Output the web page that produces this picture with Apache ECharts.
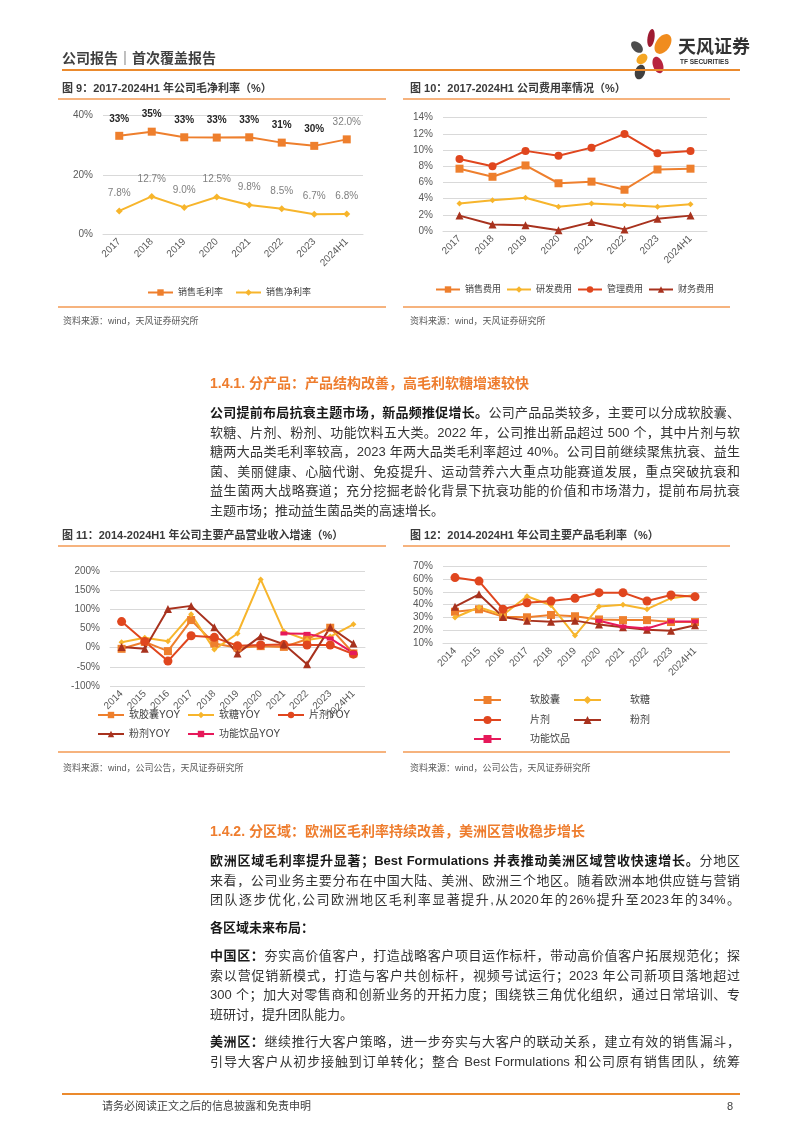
<!DOCTYPE html>
<html><head><meta charset="utf-8">
<script src="https://cdn.jsdelivr.net/npm/echarts@6/dist/echarts.min.js"></script>
<style>
html,body{margin:0;padding:0;background:#fff;}
#page{position:relative;width:802px;height:1133px;overflow:hidden;font-family:"Liberation Sans","Noto Sans CJK SC",sans-serif;color:#262626;}
#chart{position:absolute;left:0;top:0;width:802px;height:1133px;}
.t{position:absolute;white-space:nowrap;}
.hl{position:absolute;}
.ln{position:absolute;left:210px;width:530px;font-size:13px;line-height:19px;height:19px;text-align:justify;text-align-last:justify;color:#333;}
.ln.last{text-align-last:left;}
.ln b{color:#1a1a1a;}
.ttl{font-size:11px;font-weight:bold;color:#3a3a3a;line-height:14px;}
.src{font-size:9px;color:#595959;line-height:12px;}
.h2{font-size:14px;font-weight:bold;color:#EE7D2E;line-height:18px;}
</style></head>
<body><div id="page">
<div id="chart"></div>

<div class="t" style="left:62px;top:49px;font-size:14px;line-height:18px;color:#404040;font-weight:bold;">公司报告｜首次覆盖报告</div>
<div class="t" style="left:678px;top:36px;font-size:18px;line-height:22px;font-weight:bold;color:#333;">天风证券</div>
<div class="t" style="left:680px;top:58px;font-size:6.5px;line-height:8px;font-weight:bold;color:#333;">TF SECURITIES</div>
<div class="hl" style="left:62px;top:69px;width:678px;height:2px;background:#EB8A2D;"></div>

<div class="t ttl" style="left:62px;top:81px;">图 9：2017-2024H1 年公司毛净利率（%）</div>
<div class="t ttl" style="left:410px;top:81px;">图 10：2017-2024H1 公司费用率情况（%）</div>
<div class="hl" style="left:58px;top:98px;width:328px;height:2px;background:#F6B37E;"></div>
<div class="hl" style="left:403px;top:98px;width:327px;height:2px;background:#F6B37E;"></div>
<div class="hl" style="left:58px;top:306px;width:328px;height:2px;background:#F6B37E;"></div>
<div class="hl" style="left:403px;top:306px;width:327px;height:2px;background:#F6B37E;"></div>
<div class="t src" style="left:63px;top:315px;">资料来源：wind，天风证券研究所</div>
<div class="t src" style="left:410px;top:315px;">资料来源：wind，天风证券研究所</div>

<div class="t h2" style="left:210px;top:374px;">1.4.1. 分产品：产品结构改善，高毛利软糖增速较快</div>
<div class="ln" style="top:403px;"><b>公司提前布局抗衰主题市场，新品频推促增长。</b>公司产品品类较多，主要可以分成软胶囊、</div>
<div class="ln" style="top:422.5px;">软糖、片剂、粉剂、功能饮料五大类。2022 年，公司推出新品超过 500 个，其中片剂与软</div>
<div class="ln" style="top:442px;">糖两大品类毛利率较高，2023 年两大品类毛利率超过 40%。公司目前继续聚焦抗衰、益生</div>
<div class="ln" style="top:461.5px;">菌、美丽健康、心脑代谢、免疫提升、运动营养六大重点功能赛道发展，重点突破抗衰和</div>
<div class="ln" style="top:481px;">益生菌两大战略赛道；充分挖掘老龄化背景下抗衰功能的价值和市场潜力，提前布局抗衰</div>
<div class="ln last" style="top:500.5px;">主题市场；推动益生菌品类的高速增长。</div>

<div class="t ttl" style="left:62px;top:528px;">图 11：2014-2024H1 年公司主要产品营业收入增速（%）</div>
<div class="t ttl" style="left:410px;top:528px;">图 12：2014-2024H1 年公司主要产品毛利率（%）</div>
<div class="hl" style="left:58px;top:545px;width:328px;height:2px;background:#F6B37E;"></div>
<div class="hl" style="left:403px;top:545px;width:327px;height:2px;background:#F6B37E;"></div>
<div class="hl" style="left:58px;top:751px;width:328px;height:2px;background:#F6B37E;"></div>
<div class="hl" style="left:403px;top:751px;width:327px;height:2px;background:#F6B37E;"></div>
<div class="t src" style="left:63px;top:762px;">资料来源：wind，公司公告，天风证券研究所</div>
<div class="t src" style="left:410px;top:762px;">资料来源：wind，公司公告，天风证券研究所</div>

<div class="t h2" style="left:210px;top:822px;">1.4.2. 分区域：欧洲区毛利率持续改善，美洲区营收稳步增长</div>
<div class="ln" style="top:851px;"><b>欧洲区域毛利率提升显著；Best Formulations 并表推动美洲区域营收快速增长。</b>分地区</div>
<div class="ln" style="top:870.5px;">来看，公司业务主要分布在中国大陆、美洲、欧洲三个地区。随着欧洲本地供应链与营销</div>
<div class="ln" style="top:890px;">团队逐步优化,公司欧洲地区毛利率显著提升,从2020年的26%提升至2023年的34%。</div>
<div class="ln last" style="top:918px;"><b>各区域未来布局：</b></div>
<div class="ln" style="top:946px;"><b>中国区：</b>夯实高价值客户，打造战略客户项目运作标杆，带动高价值客户拓展规范化；探</div>
<div class="ln" style="top:965.5px;">索以营促销新模式，打造与客户共创标杆，视频号试运行；2023 年公司新项目落地超过</div>
<div class="ln" style="top:985px;">300 个；加大对零售商和创新业务的开拓力度；围绕铁三角优化组织，通过日常培训、专</div>
<div class="ln last" style="top:1004.5px;">班研讨，提升团队能力。</div>
<div class="ln" style="top:1032px;"><b>美洲区：</b>继续推行大客户策略，进一步夯实与大客户的联动关系，建立有效的销售漏斗，</div>
<div class="ln" style="top:1051.5px;">引导大客户从初步接触到订单转化；整合 Best Formulations 和公司原有销售团队，统筹</div>

<div class="hl" style="left:62px;top:1093px;width:678px;height:2px;background:#EB8A2D;"></div>
<div class="t" style="left:102px;top:1099px;font-size:11px;line-height:14px;color:#404040;">请务必阅读正文之后的信息披露和免责申明</div>
<div class="t" style="left:727px;top:1099px;font-size:11px;line-height:14px;color:#404040;">8</div>
</div>
<script>
// ---------- data ----------
const years9 = ['2017','2018','2019','2020','2021','2022','2023','2024H1'];
const grossMargin = [33.2, 34.6, 32.7, 32.6, 32.7, 30.9, 29.8, 32.0];
const netMargin = [7.8, 12.7, 9.0, 12.5, 9.8, 8.5, 6.7, 6.8];

const salesExp = [7.7, 6.7, 8.1, 5.9, 6.1, 5.1, 7.6, 7.7];
const rdExp = [3.4, 3.8, 4.1, 3.0, 3.4, 3.2, 3.0, 3.3];
const adminExp = [8.9, 8.0, 9.9, 9.3, 10.3, 12.0, 9.6, 9.9];
const finExp = [1.9, 0.8, 0.7, 0.1, 1.1, 0.2, 1.5, 1.9];

const years11 = ['2014','2015','2016','2017','2018','2019','2020','2021','2022','2023','2024H1'];
const softCapYoy = [-3, 15, -9, 72, 11, 0, 4, 2, 22, 52, -15];
const softCandyYoy = [14, 26, 17, 87, -5, 37, 178, 42, 20, 29, 61];
const tabletYoy = [68, 16, -35, 31, 27, 5, 7, 8, 7, 7, -17];
const powderYoy = [2, -3, 101, 109, 53, -15, 30, 9, -43, 53, 11];
const drinkYoy = [null, null, null, null, null, null, null, 37, 36, 24, -14];

const softCapGm = [34.5, 36.4, 30.7, 30.2, 32.0, 31.0, 28.5, 28.0, 28.0, 26.5, 26.5];
const softCandyGm = [30.0, 38.0, 32.0, 46.5, 39.5, 16.0, 38.5, 40.0, 36.5, 45.0, 47.5];
const tabletGm = [61.0, 58.3, 36.5, 41.5, 42.8, 45.0, 49.3, 49.3, 42.8, 47.5, 46.2];
const powderGm = [38.4, 48.0, 30.5, 27.6, 26.8, 27.6, 24.5, 22.5, 20.5, 19.8, 24.0];
const drinkGm = [null, null, null, null, null, null, 27.5, 23.0, 21.5, 27.0, 27.0];

// ---------- styles ----------
const C_ORANGE = '#EE7F2D', C_YELLOW = '#F7B52C', C_RED = '#E0461E', C_DARK = '#A8321E', C_PINK = '#E6195A';
const FONT = '"Liberation Sans","Noto Sans CJK SC",sans-serif';

function catAxis(gi, data) {
  return { type: 'category', gridIndex: gi, data: data, boundaryGap: true,
    axisTick: { show: false },
    axisLine: { lineStyle: { color: '#d9d9d9' } },
    axisLabel: { rotate: 45, color: '#595959', fontSize: 10, margin: 6, interval: 0, fontFamily: FONT } };
}
function valAxis(gi, min, max, interval) {
  return { type: 'value', gridIndex: gi, min: min, max: max, interval: interval,
    axisLine: { show: false }, axisTick: { show: false },
    splitLine: { lineStyle: { color: '#d9d9d9', width: 1 } },
    axisLabel: { color: '#595959', fontSize: 10, margin: 10, fontFamily: FONT, formatter: v => v + '%' } };
}
function ln(name, gi, data, color, symbol, size, extra) {
  return Object.assign({ name: name, type: 'line', xAxisIndex: gi, yAxisIndex: gi, data: data,
    symbol: symbol, symbolSize: size, showSymbol: true,
    lineStyle: { color: color, width: 2 }, itemStyle: { color: color },
    emphasis: { disabled: true } }, extra || {});
}
function lg(names, left, top, extra) {
  return Object.assign({ data: names, left: left, top: top, orient: 'horizontal',
    itemWidth: 26, itemHeight: 8, itemGap: 14,
    textStyle: { color: '#404040', fontSize: 10, fontFamily: FONT } }, extra || {});
}
const lg12Text = { color: '#404040', fontSize: 10, fontFamily: FONT, padding: [0, 0, 0, 24] };

const chart = echarts.init(document.getElementById('chart'), null, { renderer: 'canvas' });
const option = {
  animation: false,
  textStyle: { fontFamily: FONT },
  grid: [
    { left: 103, top: 115.7, width: 260, height: 118.3, containLabel: false, outerBoundsMode: 'none' },
    { left: 443, top: 117.7, width: 264, height: 113.3, containLabel: false, outerBoundsMode: 'none' },
    { left: 110, top: 571, width: 255, height: 115, containLabel: false, outerBoundsMode: 'none' },
    { left: 443, top: 566, width: 264, height: 77.3, containLabel: false, outerBoundsMode: 'none' }
  ],
  xAxis: [catAxis(0, years9), catAxis(1, years9), catAxis(2, years11), catAxis(3, years11)],
  yAxis: [valAxis(0, 0, 40, 20), valAxis(1, 0, 14, 2), valAxis(2, -100, 200, 50), valAxis(3, 10, 70, 10)],
  legend: [
    lg(['销售毛利率', '销售净利率'], 142, 283, { itemWidth: 25, itemGap: 12, textStyle: { color: '#404040', fontSize: 9, fontFamily: FONT } }),
    lg(['销售费用', '研发费用', '管理费用', '财务费用'], 430, 280, { itemWidth: 24, itemGap: 5, textStyle: { color: '#404040', fontSize: 9, fontFamily: FONT } }),
    lg(['软胶囊YOY'], 92, 705), lg(['软糖YOY'], 182, 705), lg(['片剂YOY'], 272, 705),
    lg(['粉剂YOY'], 92, 724), lg(['功能饮品YOY'], 182, 724),
    lg(['软胶囊'], 468, 690, { itemWidth: 27, itemHeight: 10, textStyle: lg12Text }),
    lg(['软糖'], 568, 690, { itemWidth: 27, itemHeight: 10, textStyle: lg12Text }),
    lg(['片剂'], 468, 710, { itemWidth: 27, itemHeight: 10, textStyle: lg12Text }),
    lg(['粉剂'], 568, 710, { itemWidth: 27, itemHeight: 10, textStyle: lg12Text }),
    lg(['功能饮品'], 468, 729, { itemWidth: 27, itemHeight: 10, textStyle: lg12Text })
  ],
  series: [
    ln('销售毛利率', 0, grossMargin, C_ORANGE, 'rect', 8, {
      label: { show: true, position: 'top', distance: 8,
        formatter: p => p.dataIndex === grossMargin.length - 1 ? '{g|' + p.value.toFixed(1) + '%}' : '{b|' + p.value.toFixed(0) + '%}',
        rich: { b: { fontSize: 10, fontWeight: 'bold', color: '#262626', fontFamily: FONT }, g: { fontSize: 10, color: '#7f7f7f', fontFamily: FONT } } } }),
    ln('销售净利率', 0, netMargin, C_YELLOW, 'diamond', 7, {
      label: { show: true, position: 'top', distance: 9, fontSize: 10, color: '#7f7f7f', fontFamily: FONT,
        formatter: p => p.value.toFixed(1) + '%' } }),

    ln('销售费用', 1, salesExp, C_ORANGE, 'rect', 8),
    ln('研发费用', 1, rdExp, C_YELLOW, 'diamond', 6),
    ln('管理费用', 1, adminExp, C_RED, 'circle', 8),
    ln('财务费用', 1, finExp, C_DARK, 'triangle', 8),

    ln('软胶囊YOY', 2, softCapYoy, C_ORANGE, 'rect', 8),
    ln('软糖YOY', 2, softCandyYoy, C_YELLOW, 'diamond', 6),
    ln('片剂YOY', 2, tabletYoy, C_RED, 'circle', 9),
    ln('粉剂YOY', 2, powderYoy, C_DARK, 'triangle', 8),
    ln('功能饮品YOY', 2, drinkYoy, C_PINK, 'rect', [7, 4]),

    ln('软胶囊', 3, softCapGm, C_ORANGE, 'rect', 8),
    ln('软糖', 3, softCandyGm, C_YELLOW, 'diamond', 6),
    ln('片剂', 3, tabletGm, C_RED, 'circle', 9),
    ln('粉剂', 3, powderGm, C_DARK, 'triangle', 8),
    ln('功能饮品', 3, drinkGm, C_PINK, 'rect', [7, 4])
  ],
  graphic: [
    { type: 'ellipse', shape: { cx: 0, cy: 0, rx: 3.5, ry: 9 }, x: 651, y: 38, rotation: -0.15, style: { fill: '#9E1B32' } },
    { type: 'ellipse', shape: { cx: 0, cy: 0, rx: 7, ry: 11 }, x: 663, y: 44, rotation: -0.6, style: { fill: '#F08C1E' } },
    { type: 'ellipse', shape: { cx: 0, cy: 0, rx: 4.5, ry: 7 }, x: 637, y: 47, rotation: 0.8, style: { fill: '#4d4d4d' } },
    { type: 'ellipse', shape: { cx: 0, cy: 0, rx: 4.5, ry: 6 }, x: 642, y: 59, rotation: -0.9, style: { fill: '#F5A623' } },
    { type: 'ellipse', shape: { cx: 0, cy: 0, rx: 5, ry: 8.5 }, x: 658, y: 65, rotation: 0.35, style: { fill: '#B8233E' } },
    { type: 'ellipse', shape: { cx: 0, cy: 0, rx: 5, ry: 7.5 }, x: 640, y: 72, rotation: -0.3, style: { fill: '#404040' } }
  ]
};
chart.setOption(option);
</script>
</body></html>
